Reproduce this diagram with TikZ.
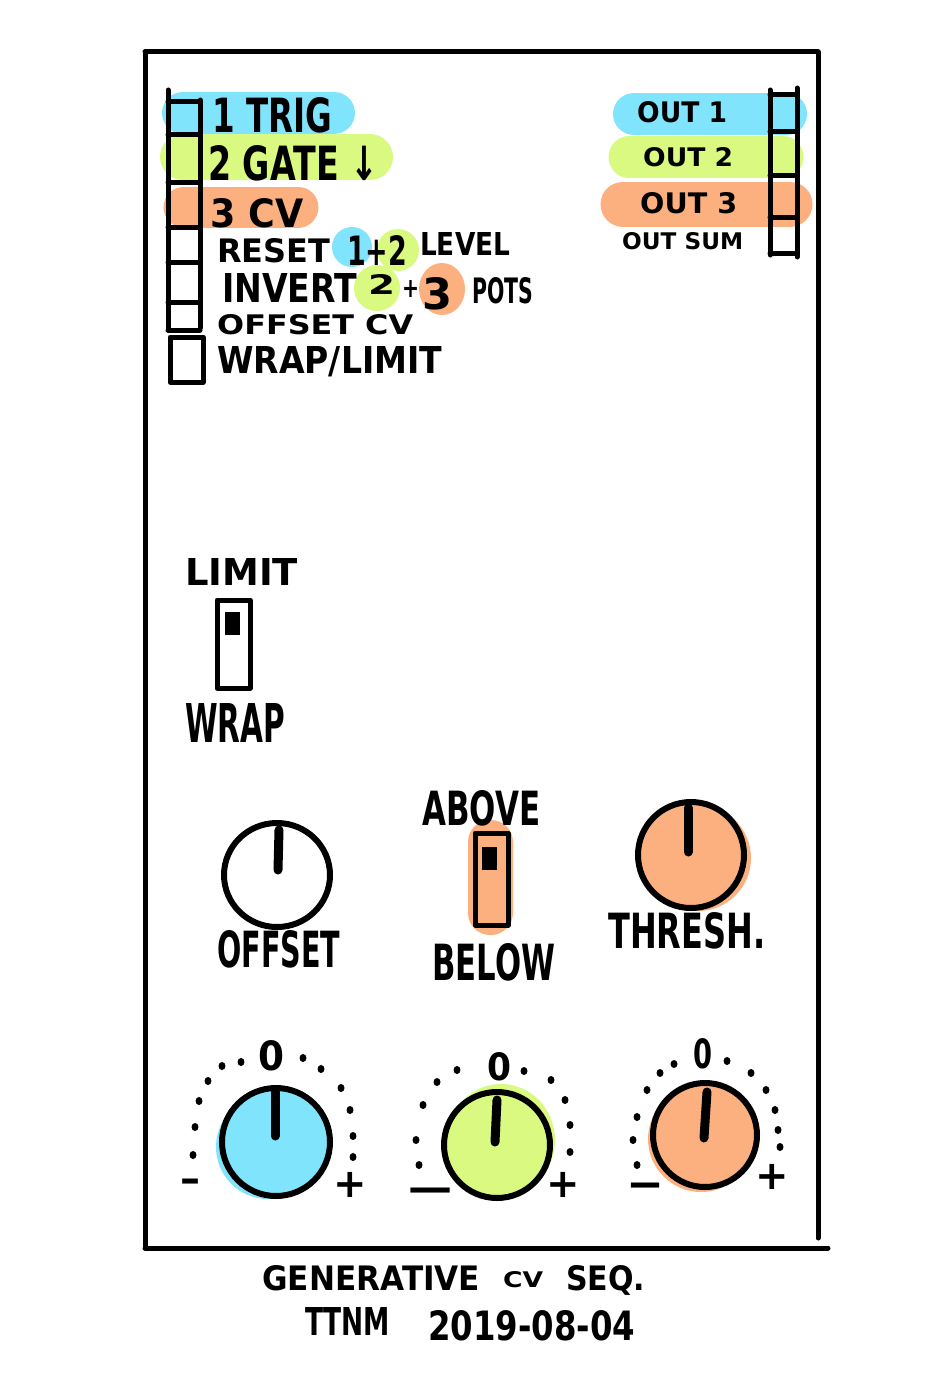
\documentclass[tikz,border=0pt]{standalone}
\usepackage{fontspec}
\setmainfont{DejaVu Sans}
\usepackage{graphicx}
\definecolor{cblue}{RGB}{128,228,252}
\definecolor{cgreen}{RGB}{218,249,128}
\definecolor{corange}{RGB}{252,176,128}
\newcommand{\fitt}[3]{\resizebox{#1pt}{#2pt}{\bfseries #3}}
\begin{document}
\begin{tikzpicture}[x=1pt,y=-1pt,
  panel/.style={line width=5pt, line cap=round},
  jack/.style={line width=5pt, line cap=round, line join=round},
  band/.style={line width=#1, line cap=round},
  knob/.style={line width=6pt},
  ind/.style={line width=9pt, line cap=round},
  lbl/.style={inner sep=0pt, anchor=base west},
  sym/.style={inner sep=0pt, anchor=center, font=\fontsize{40}{40}\selectfont\bfseries},
  tick/.style={fill=black}]
\useasboundingbox (0,0) rectangle (926,1386);
\fill[white] (0,0) rectangle (926,1386);
% panel
\draw[panel] (145,52) -- (818,52);
\draw[panel] (145,52) -- (145,1248);
\draw[panel] (818,52) -- (818,1238);
\draw[panel] (145,1248) -- (828,1248);
% highlights left
\draw[band=42pt, cblue] (183,113) -- (334,113);
\draw[band=46pt, cgreen] (183,157) -- (370,157);
\draw[band=41pt, corange] (184,207) -- (298,207);
\fill[cblue] (352,247) circle (20);
\fill[cgreen] (398,250) circle (21);
\fill[cgreen] (377,288) circle (23);
\fill[corange] (442,289) ellipse (23 and 26);
% highlights right
\draw[band=42pt, cblue] (634,114) -- (786,114);
\draw[band=41pt, cgreen] (629,157) -- (783,157);
\draw[band=45pt, corange] (623,204) -- (790,204);
% left jack column
\draw[jack] (168,90) -- (168,330);
\draw[jack] (200,100) -- (200,328);
\foreach \y in {102,135,182,227,262,302,330} \draw[jack] (168,\y) -- (200,\y);
\draw[jack] (170,337) rectangle (203,382);
% right jack column
\draw[jack] (770,90) -- (770,255);
\draw[jack] (797,88) -- (797,257);
\foreach \y in {95,132,175,217,253} \draw[jack] (770,\y) -- (797,\y);
% left labels
\node[lbl] (trig) at (212,133) {\fitt{120}{35}{1 TRIG}};
\node[lbl] (gate) at (208,180) {\fitt{170}{35}{2 GATE ↓}};
\node[lbl] (cv) at (210,227) {\fitt{93}{29}{3 CV}};
\node[lbl] (reset) at (217,262) {\fitt{113}{24}{RESET}};
\node[lbl] (onetwo) at (347,265) {\fitt{60}{30}{1+2}};
\node[lbl] (level) at (420,255) {\fitt{90}{23}{LEVEL}};
\node[lbl] (invert) at (222,302) {\fitt{135}{29}{INVERT}};
\node[lbl] (two) at (368,294) {\fitt{27}{20}{2}};
\node[lbl] (plus) at (402,297) {\fitt{17}{17}{+}};
\node[lbl] (three) at (422,309) {\fitt{30}{32}{3}};
\node[lbl] (pots) at (472,303) {\fitt{61}{26}{POTS}};
\node[lbl] (offcv) at (217,334) {\fitt{196}{20}{OFFSET CV}};
\node[lbl] (wraplim) at (217,373) {\fitt{225}{27}{WRAP/LIMIT}};
% right labels
\node[lbl] (out1) at (637,123) {\fitt{90}{21}{OUT 1}};
\node[lbl] (out2) at (643,166) {\fitt{90}{19}{OUT 2}};
\node[lbl] (out3) at (640,213) {\fitt{97}{21}{OUT 3}};
\node[lbl] (outsum) at (622,249) {\fitt{121}{17}{OUT SUM}};
% limit/wrap switch
\node[lbl] (limit) at (185,585) {\fitt{113}{27}{LIMIT}};
\node[lbl] (wrap) at (185,742) {\fitt{100}{39}{WRAP}};
\draw[jack] (217,600) rectangle (250,688);
\fill (225,612) rectangle (240,635);
% offset knob
\draw[knob, fill=white] (277,875) ellipse (53 and 52);
\draw[ind] (279,830) -- (278,870);
\node[lbl] (offset) at (217,967) {\fitt{123}{37}{OFFSET}};
% above/below switch
\fill[corange, rounded corners=22pt] (468,820) rectangle (513,935);
\draw[jack] (475,833) rectangle (508,925);
\fill (482,847) rectangle (497,870);
\node[lbl] (above) at (422,825) {\fitt{118}{35}{ABOVE}};
\node[lbl] (below) at (432,980) {\fitt{123}{37}{BELOW}};
% thresh knob
\fill[corange] (698,858) circle (53);
\draw[knob, fill=corange] (691,855) circle (53);
\draw[ind] (688,808) -- (688,852);
\node[lbl] (thresh) at (608,948) {\fitt{157}{36}{THRESH.}};
% bottom knob 1
\fill[cblue] (268,1147) circle (52);
\draw[knob, fill=cblue] (276,1142) circle (54);
\draw[ind] (275,1092) -- (275,1136);
\foreach \p in {(193,1155),(195,1127),(199,1101),(208,1081),(222,1066),(241,1062),(303,1058),(321,1069),(341,1088),(350,1110),(353,1136),(353,1157)}
  \fill \p ellipse (3.5 and 4);
\node[lbl] (zero1) at (258,1070) {\fitt{26}{30}{0}};
\node[sym] (minus1) at (190,1186) {–};
\node[sym] (plus1) at (350,1185) {+};
% bottom knob 2
\fill[cgreen] (501,1140) ellipse (54 and 56);
\draw[knob, fill=cgreen] (497,1145) circle (53);
\draw[ind] (497,1100) -- (495,1142);
\foreach \p in {(419,1165),(416,1140),(423,1105),(437,1082),(457,1070),(524,1071),(551,1080),(565,1100),(570,1125),(570,1152)}
  \fill \p ellipse (3.5 and 4);
\node[lbl] (zero2) at (487,1080) {\fitt{24}{28}{0}};
\node[sym] (minus2) at (430,1195) {\scalebox{2.5}[1]{–}};
\node[sym] (plus2) at (563,1185) {+};
% bottom knob 3
\fill[corange] (701,1139) circle (53);
\draw[knob, fill=corange] (705,1135) circle (52);
\draw[ind] (707,1092) -- (704,1138);
\foreach \p in {(637,1165),(633,1140),(637,1117),(647,1090),(660,1073),(674,1064),(727,1061),(751,1073),(766,1090),(775,1110),(778,1130),(780,1147)}
  \fill \p ellipse (3.5 and 4);
\node[lbl] (zero3) at (693,1068) {\fitt{19}{30}{0}};
\node[sym] (minus3) at (645,1190) {\scalebox{1.8}[1]{–}};
\node[sym] (plus3) at (772,1177) {+};
% title
\node[lbl] (gen) at (262,1290) {\fitt{218}{25}{GENERATIVE}};
\node[lbl] (gcv) at (503,1287) {\fitt{40}{16}{CV}};
\node[lbl] (seq) at (566,1290) {\fitt{79}{25}{SEQ.}};
\node[lbl] (ttnm) at (305,1335) {\fitt{85}{28}{TTNM}};
\node[lbl] (date) at (428,1340) {\fitt{207}{30}{2019-08-04}};
\end{tikzpicture}
\end{document}
